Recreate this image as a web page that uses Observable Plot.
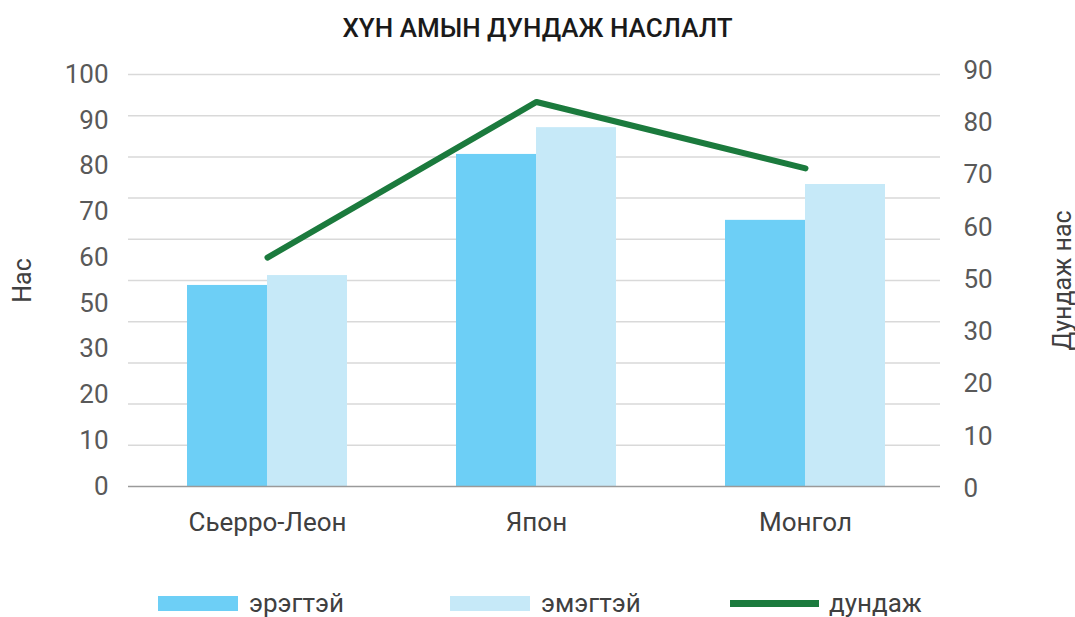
<!DOCTYPE html>
<html><head><meta charset="utf-8">
<script src="https://cdn.jsdelivr.net/npm/d3@7"></script>
<script src="https://cdn.jsdelivr.net/npm/@observablehq/plot@0.6"></script>
<style>
body{margin:0;background:#fff;font-family:Roboto,sans-serif;width:1075px;height:617px;overflow:hidden;}
#title{height:56px;line-height:56px;text-align:center;font-size:26px;font-weight:500;color:#1a1a1a;}
#chart{height:520px;}
#legend{position:relative;height:41px;}
.item{position:absolute;top:8px;height:38px;display:flex;align-items:center;font-size:26px;color:#404040;}
.sw{width:80px;height:15px;margin-right:11px;}
.ln{width:89px;height:7px;margin-right:10px;}
</style></head><body>
<div id="title">ХҮН АМЫН ДУНДАЖ НАСЛАЛТ</div>
<div id="chart"></div>
<div id="legend"></div>
<script>
const countries = ["Сьерро-Леон", "Япон", "Монгол"];
const male = [48.8, 80.6, 64.6];
const female = [51.2, 87.1, 73.3];
const average = [50, 84, 69.5];
const leftTickLabels = ["100", "90", "80", "70", "60", "50", "30", "20", "10", "0"];
const rightTickLabels = ["90", "80", "70", "60", "50", "30", "20", "10", "0"];
const seriesNames = ["эрэгтэй", "эмэгтэй", "дундаж"];
const colors = ["#6dcff6", "#c6e9f8", "#1b7a3d"];
const leftTitle = "Нас";
const rightTitle = "Дундаж нас";
const leftMax = 100, rightMax = 90;

const rows = countries.map((c, i) => ({country: c, male: male[i], female: female[i], avg: average[i]}));
// evenly spaced label positions (labels as drawn in the reference)
const leftPos = leftTickLabels.map((_, i) => leftMax - i * leftMax / (leftTickLabels.length - 1));
const rightPos = rightTickLabels.map((_, i) => leftMax + 1 - i * (leftMax + 1.5) / (rightTickLabels.length - 1));
const gridVals = d3.range(10, leftMax + 1, 10);

const chart = Plot.plot({
  width: 1075, height: 520,
  marginLeft: 128, marginRight: 135, marginTop: 18, marginBottom: 90,
  style: {fontFamily: "Roboto, sans-serif", background: "#fff", overflow: "visible"},
  x: {type: "band", domain: countries, range: [132, 940], paddingInner: 0.703, paddingOuter: 0.35, align: 0.5},
  y: {domain: [0, leftMax]},
  marks: [
    Plot.gridY(gridVals, {stroke: "#d9d9d9", strokeOpacity: 1, strokeWidth: 1.5}),
    Plot.barY(rows, {x: "country", y: "male", fill: colors[0], dx: -40}),
    Plot.barY(rows, {x: "country", y: "female", fill: colors[1], dx: 40}),
    Plot.ruleY([0], {stroke: "#9a9a9a", strokeWidth: 1.5}),
    Plot.line(rows, {x: "country", y: d => d.avg * leftMax / rightMax, stroke: colors[2], strokeWidth: 6}),
    Plot.axisX({tickSize: 0, tickPadding: 26, fontSize: 26, color: "#404040", label: null}),
    Plot.axisY(leftPos, {anchor: "left", tickSize: 0, tickPadding: 20, fontSize: 26, color: "#595959",
      tickFormat: d => leftTickLabels[leftPos.indexOf(d)], label: null}),
    Plot.axisY(rightPos, {anchor: "right", tickSize: 0, tickPadding: 23, fontSize: 26, color: "#595959",
      tickFormat: d => rightTickLabels[rightPos.indexOf(d)], label: null}),
    Plot.text([leftTitle], {frameAnchor: "left", dx: -106, rotate: -90, textAnchor: "middle", lineAnchor: "middle", fontSize: 25, fill: "#404040"}),
    Plot.text([rightTitle], {frameAnchor: "right", dx: 122, rotate: -90, textAnchor: "middle", lineAnchor: "middle", fontSize: 25, fill: "#404040"})
  ]
});
document.getElementById("chart").appendChild(chart);

const legend = document.getElementById("legend");
const lefts = [158, 450, 730];
seriesNames.forEach((n, i) => {
  const it = document.createElement("div");
  it.className = "item";
  it.style.left = lefts[i] + "px";
  const s = document.createElement("div");
  s.className = i === 2 ? "ln" : "sw";
  s.style.background = colors[i];
  const t = document.createElement("span");
  t.textContent = n;
  it.appendChild(s); it.appendChild(t);
  legend.appendChild(it);
});
</script>
</body></html>
